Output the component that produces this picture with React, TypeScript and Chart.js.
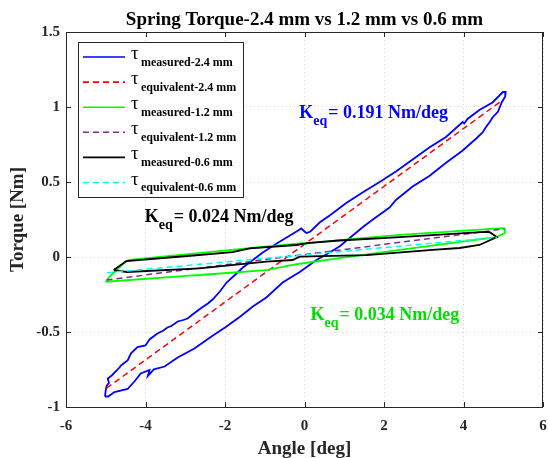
import React, { useEffect, useRef } from 'react';
import { Chart, registerables } from 'chart.js';
Chart.register(...registerables);

const SERIF = '"Liberation Serif", "Times New Roman", serif';

const X_MIN = -6, X_MAX = 6, X_STEP = 2;
const Y_MIN = -1, Y_MAX = 1.5, Y_STEP = 0.5;

const TITLE = 'Spring Torque-2.4 mm vs 1.2 mm vs 0.6 mm';
const X_LABEL = 'Angle [deg]';
const Y_LABEL = 'Torque [Nm]';

// measured 2.4 mm hysteresis loop
const m24X = [-5.02, -5.0, -4.98, -4.92, -4.95, -4.85, -4.7, -4.6, -4.45, -4.36, -4.2, -4.0, -3.9, -3.7, -3.55, -3.45, -3.35, -3.19, -3.05, -2.94, -2.8, -2.6, -2.43, -2.3, -2.13, -1.96, -1.71, -1.55, -1.3, -1.05, -0.7, -0.45, -0.2, -0.08, 0.0, 0.05, 0.15, 0.38, 0.65, 1.05, 1.46, 1.89, 2.3, 2.72, 3.14, 3.56, 3.98, 4.02, 4.1, 4.4, 4.73, 4.99, 5.06,
  5.05, 4.96, 4.9, 4.87, 4.73, 4.66, 4.55, 4.48, 4.32, 3.98, 3.57, 3.14, 2.72, 2.3, 2.14, 1.72, 1.47, 0.88, 0.63, 0.3, -0.12, -0.55, -0.96, -1.3, -1.63, -2.0, -2.34, -2.77, -3.19, -3.52, -3.79, -3.94, -3.9, -4.12, -4.28, -4.45, -4.78, -4.94, -5.02];
const m24Y = [-0.93, -0.89, -0.86, -0.84, -0.81, -0.79, -0.75, -0.72, -0.69, -0.64, -0.6, -0.59, -0.55, -0.51, -0.49, -0.47, -0.46, -0.43, -0.42, -0.41, -0.38, -0.34, -0.31, -0.28, -0.23, -0.17, -0.11, -0.07, -0.02, 0.03, 0.09, 0.13, 0.17, 0.19, 0.17, 0.16, 0.17, 0.23, 0.28, 0.36, 0.43, 0.5, 0.57, 0.65, 0.73, 0.8, 0.9, 0.89, 0.92, 0.98, 1.03, 1.1, 1.1,
  1.07, 1.03, 0.99, 0.97, 0.93, 0.9, 0.86, 0.83, 0.79, 0.71, 0.63, 0.54, 0.47, 0.38, 0.33, 0.25, 0.2, 0.07, 0.03, -0.02, -0.1, -0.17, -0.27, -0.33, -0.4, -0.47, -0.53, -0.61, -0.67, -0.73, -0.749, -0.793, -0.753, -0.776, -0.83, -0.88, -0.9, -0.93, -0.93];

// equivalent 2.4 mm
const e24X = [-4.98, 4.99];
const e24Y = [-0.875, 1.047];

// measured 1.2 mm
const m12X = [-5.0, -4.9, -4.78, -4.5, -4.4, -2.8, -1.13, -0.05, 0.02, 0.1, 0.88, 2.4, 4.98, 5.03, 5.04, 4.83, 2.4, 0.88, -0.12, -0.3, -0.96, -2.64, -2.8, -5.0];
const m12Y = [-0.165, -0.13, -0.1, -0.03, -0.02, 0.022, 0.065, 0.093, 0.085, 0.093, 0.113, 0.147, 0.193, 0.19, 0.16, 0.133, 0.047, -0.007, -0.045, -0.053, -0.087, -0.12, -0.122, -0.165];

// equivalent 1.2 mm
const e12X = [-4.98, 5.03];
const e12Y = [-0.153, 0.187];

// measured 0.6 mm
const m06X = [-4.8, -4.48, -2.8, -1.81, -1.38, -0.2, 0.05, 0.88, 2.4, 4.53, 4.66, 4.84, 4.4, 3.9, 3.22, 1.56, -0.12, -0.3, -0.96, -2.64, -4.47, -4.8];
const m06Y = [-0.087, -0.027, 0.01, 0.033, 0.058, 0.08, 0.093, 0.11, 0.133, 0.167, 0.165, 0.133, 0.08, 0.06, 0.047, 0.013, 0.002, -0.02, -0.031, -0.076, -0.1, -0.087];

// equivalent 0.6 mm
const e06X = [-4.97, 4.84];
const e06Y = [-0.105, 0.131];

const SERIES_NAMES = ['measured-2.4 mm', 'equivalent-2.4 mm', 'measured-1.2 mm', 'equivalent-1.2 mm', 'measured-0.6 mm', 'equivalent-0.6 mm'];
const SERIES_COLORS = ['#0000ff', '#ff0000', '#00ff00', '#7e2f8e', '#000000', '#00ffff'];
const SERIES_DASHED = [false, true, false, true, false, true];
const SERIES_X = [m24X, e24X, m12X, e12X, m06X, e06X];
const SERIES_Y = [m24Y, e24Y, m12Y, e12Y, m06Y, e06Y];

// annotations: value text, colour, anchor (data coords of left/baseline)
const ANN_TEXT = ['= 0.191 Nm/deg', '= 0.024 Nm/deg', '= 0.034 Nm/deg'];
const ANN_COLOR = ['#0000ff', '#000000', '#00e000'];
const ANN_X = [-0.13, -4.02, 0.15];
const ANN_Y = [0.927, 0.233, -0.42];

const AXIS_COLOR = '#262626';

const overlayPlugin = {
  id: 'overlay',
  afterDraw(chart: any) {
    const { ctx, chartArea: a, scales } = chart;
    const xs = scales.x, ys = scales.y;
    ctx.save();
    // ticks inward
    ctx.strokeStyle = AXIS_COLOR;
    ctx.lineWidth = 1;
    ctx.beginPath();
    for (let v = X_MIN; v <= X_MAX + 1e-9; v += X_STEP) {
      const px = Math.round(xs.getPixelForValue(v)) + 0.5;
      ctx.moveTo(px, a.bottom); ctx.lineTo(px, a.bottom - 5);
      ctx.moveTo(px, a.top); ctx.lineTo(px, a.top + 5);
    }
    for (let v = Y_MIN; v <= Y_MAX + 1e-9; v += Y_STEP) {
      const py = Math.round(ys.getPixelForValue(v)) + 0.5;
      ctx.moveTo(a.left, py); ctx.lineTo(a.left + 5, py);
      ctx.moveTo(a.right, py); ctx.lineTo(a.right - 5, py);
    }
    ctx.stroke();
    ctx.strokeRect(Math.round(a.left) + 0.5, Math.round(a.top) + 0.5, Math.round(a.right - a.left) - 1, Math.round(a.bottom - a.top));

    // title
    ctx.fillStyle = '#000';
    ctx.font = `bold 19px ${SERIF}`;
    ctx.textAlign = 'center';
    ctx.textBaseline = 'alphabetic';
    ctx.fillText(TITLE, (a.left + a.right) / 2, 25);

    // axis labels
    ctx.fillStyle = AXIS_COLOR;
    ctx.font = `bold 19px ${SERIF}`;
    ctx.fillText(X_LABEL, (a.left + a.right) / 2, 454);
    ctx.save();
    ctx.translate(23, (a.top + a.bottom) / 2);
    ctx.rotate(-Math.PI / 2);
    ctx.fillText(Y_LABEL, 0, 0);
    ctx.restore();

    // annotations
    ctx.textAlign = 'left';
    for (let i = 0; i < ANN_TEXT.length; i++) {
      const x0 = xs.getPixelForValue(ANN_X[i]);
      const y0 = ys.getPixelForValue(ANN_Y[i]);
      ctx.fillStyle = ANN_COLOR[i];
      ctx.font = `bold 18px ${SERIF}`;
      ctx.fillText('K', x0, y0);
      const kw = ctx.measureText('K').width;
      ctx.font = `bold 14px ${SERIF}`;
      ctx.fillText('eq', x0 + kw, y0 + 7);
      const ew = ctx.measureText('eq').width;
      ctx.font = `bold 18px ${SERIF}`;
      ctx.fillText(ANN_TEXT[i], x0 + kw + ew + 1, y0);
    }

    // legend
    const lx = 78.5, ly = 42.5, lw = 165, lh = 155;
    ctx.fillStyle = '#ffffff';
    ctx.fillRect(lx, ly, lw, lh);
    ctx.strokeStyle = AXIS_COLOR;
    ctx.lineWidth = 1;
    ctx.strokeRect(lx, ly, lw, lh);
    for (let i = 0; i < SERIES_NAMES.length; i++) {
      const ry = 57 + i * 25.1;
      ctx.strokeStyle = SERIES_COLORS[i];
      ctx.lineWidth = 1.6;
      ctx.setLineDash(SERIES_DASHED[i] ? [6, 4] : []);
      ctx.beginPath();
      ctx.moveTo(83, ry); ctx.lineTo(125, ry);
      ctx.stroke();
      ctx.setLineDash([]);
      ctx.fillStyle = '#000';
      ctx.font = `19px ${SERIF}`;
      ctx.fillText('\u03C4', 131, ry + 2);
      ctx.font = `bold 12px ${SERIF}`;
      ctx.fillText(SERIES_NAMES[i], 141, ry + 8.5);
    }
    ctx.restore();
  },
};

export default function App() {
  const ref = useRef<HTMLCanvasElement>(null);
  useEffect(() => {
    if (!ref.current) return;
    const datasets = SERIES_NAMES.map((name, i) => ({
      label: name,
      data: SERIES_X[i].map((x, j) => ({ x, y: SERIES_Y[i][j] })),
      showLine: true,
      borderColor: SERIES_COLORS[i],
      backgroundColor: SERIES_COLORS[i],
      borderWidth: SERIES_DASHED[i] ? 1.5 : 1.8,
      borderDash: SERIES_DASHED[i] ? [6, 4] : [],
      pointRadius: 0,
      tension: 0,
      fill: false,
      order: SERIES_NAMES.length - i,
    }));
    const tickFont = { family: SERIF, size: 15, weight: 'bold' as const };
    const chart = new Chart(ref.current, {
      type: 'scatter',
      data: { datasets },
      options: {
        animation: false,
        responsive: false,
        maintainAspectRatio: false,
        devicePixelRatio: 1,
        layout: { padding: { top: 32, right: 5, left: 0, bottom: 0 } },
        plugins: { legend: { display: false }, tooltip: { enabled: false }, title: { display: false } },
        scales: {
          x: {
            type: 'linear', min: X_MIN, max: X_MAX,
            afterFit: (s: any) => { s.height = 51; s.paddingLeft = 0; s.paddingRight = 0; },
            ticks: { stepSize: X_STEP, color: AXIS_COLOR, font: tickFont, padding: 10, maxRotation: 0, autoSkip: false, callback: (v: any) => String(v) },
            grid: { color: '#d4d4d4', drawTicks: false, lineWidth: 1 },
            border: { display: false, dash: [1, 3] },
          },
          y: {
            type: 'linear', min: Y_MIN, max: Y_MAX,
            afterFit: (s: any) => { s.width = 66; s.paddingTop = 0; s.paddingBottom = 0; },
            ticks: { stepSize: Y_STEP, color: AXIS_COLOR, font: tickFont, padding: 6, autoSkip: false, callback: (v: any) => String(v) },
            grid: { color: '#d4d4d4', drawTicks: false, lineWidth: 1 },
            border: { display: false, dash: [1, 3] },
          },
        },
      },
      plugins: [overlayPlugin],
    });
    return () => chart.destroy();
  }, []);
  return (
    <div style={{ position: 'absolute', left: 0, top: 0, width: 548, height: 458, background: '#fff' }}>
      <canvas ref={ref} width={548} height={458} style={{ width: 548, height: 458 }} />
    </div>
  );
}
